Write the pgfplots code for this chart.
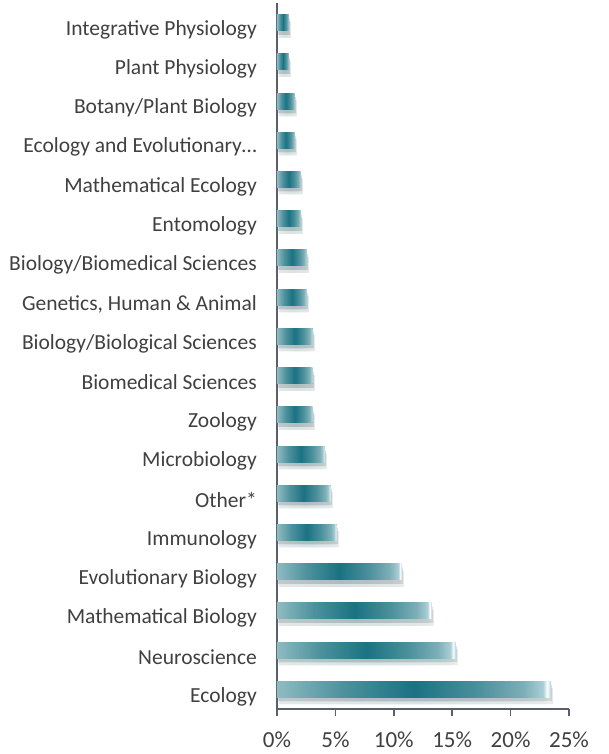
\documentclass[border=0pt]{standalone}
\usepackage{pgfplots}
\pgfplotsset{compat=1.18}
\usepackage{fontspec}
\setmainfont{Carlito}
\definecolor{txt}{HTML}{404040}
\definecolor{axc}{HTML}{5A5F6E}
\definecolor{tealdark}{HTML}{1A7282}
\definecolor{tealmid}{HTML}{4D919D}
\definecolor{tealstart}{HTML}{8FBBC2}
\definecolor{tealrt}{HTML}{7DAFB7}
\definecolor{teallight}{HTML}{A9CFD5}
\pgfdeclarehorizontalshading{tealbar}{100bp}{color(0bp)=(tealstart); color(25bp)=(tealstart); color(37bp)=(tealmid); color(50bp)=(tealdark); color(62bp)=(tealmid); color(70bp)=(tealrt); color(73.5bp)=(teallight); color(74.3bp)=(white); color(75bp)=(teallight); color(100bp)=(teallight)}
\pgfplotsset{mybar/.style={draw=none, fill=tealmid, shade, shading=tealbar,
  preaction={fill=black, opacity=0.08, transform canvas={xshift=2pt, yshift=-7pt}},
  preaction={fill=black, opacity=0.12, transform canvas={xshift=1pt, yshift=-4pt}}}}
\begin{document}
\begin{tikzpicture}
\begin{axis}[
  at={(0pt,0pt)}, anchor=south west,
  scale only axis, width=292pt, height=706pt,
  xbar, bar width=16pt, bar shift=0pt,
  xmin=0, xmax=25, ymin=-0.5, ymax=17.5,
  axis y line*=left, axis x line*=bottom,
  axis line style={axc, line width=1.5pt},
  every tick/.style={axc, line width=1.5pt},
  tick align=outside,
  major tick length=7pt, minor tick length=7pt,
  xtick={0,5,10,15,20,25},
  xticklabels={0\%,5\%,10\%,15\%,20\%,25\%},
  xticklabel style={font=\fontsize{23}{27}\selectfont, text=txt, yshift=-12pt},
  ytick={0,...,17},
  ytick style={draw=none},
  minor ytick={-0.5,0.5,...,17.5},
  yticklabels={Ecology,Neuroscience,Mathematical Biology,Evolutionary Biology,Immunology,Other*,Microbiology,Zoology,Biomedical Sciences,Biology/Biological Sciences,{Genetics, Human \& Animal},Biology/Biomedical Sciences,Entomology,Mathematical Ecology,Ecology and Evolutionary…,Botany/Plant Biology,Plant Physiology,Integrative Physiology},
  yticklabel style={font=\fontsize{21.5}{25}\selectfont, text=txt, anchor=east, inner sep=0pt, xshift=-13pt, yshift=-7pt},
  /pgf/number format/assume math mode=true,
]
\addplot[mybar] coordinates {(23.47,0)};
\addplot[mybar] coordinates {(15.31,1)};
\addplot[mybar] coordinates {(13.27,2)};
\addplot[mybar] coordinates {(10.71,3)};
\addplot[mybar] coordinates {(5.10,4)};
\addplot[mybar] coordinates {(4.59,5)};
\addplot[mybar] coordinates {(4.08,6)};
\addplot[mybar] coordinates {(3.06,7)};
\addplot[mybar] coordinates {(3.06,8)};
\addplot[mybar] coordinates {(3.06,9)};
\addplot[mybar] coordinates {(2.55,10)};
\addplot[mybar] coordinates {(2.55,11)};
\addplot[mybar] coordinates {(2.04,12)};
\addplot[mybar] coordinates {(2.04,13)};
\addplot[mybar] coordinates {(1.53,14)};
\addplot[mybar] coordinates {(1.53,15)};
\addplot[mybar] coordinates {(1.02,16)};
\addplot[mybar] coordinates {(1.02,17)};
\end{axis}
\pgfresetboundingbox
\path[use as bounding box] (-277pt,-45pt) rectangle (331pt,709pt);
\end{tikzpicture}
\end{document}
